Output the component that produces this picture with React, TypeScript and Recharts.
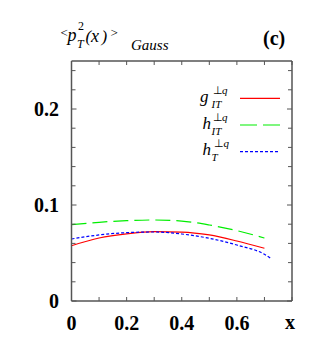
import React from "react";
import { LineChart, Line, XAxis, YAxis } from "recharts";

// x positions where the curves were read
const xGrid = [0, 0.1, 0.2, 0.3, 0.4, 0.5, 0.6, 0.7];
const gIT = [0.0576, 0.0656, 0.07, 0.0722, 0.0718, 0.0688, 0.0625, 0.0549];
const hIT = [0.0795, 0.082, 0.0837, 0.0844, 0.0833, 0.0792, 0.0733, 0.0656];
const hTx = [0, 0.1, 0.2, 0.3, 0.4, 0.5, 0.6, 0.7, 0.725];
const hT = [0.0646, 0.0688, 0.0712, 0.0719, 0.0698, 0.0653, 0.0583, 0.0486, 0.044];

const xTicks = [0, 0.1, 0.2, 0.3, 0.4, 0.5, 0.6, 0.7, 0.8];
const xLabels = ["0", "", "0.2", "", "0.4", "", "0.6", "", ""];
const yTicks = [0, 0.02, 0.04, 0.06, 0.08, 0.1, 0.12, 0.14, 0.16, 0.18, 0.2, 0.22, 0.24];
const yLabels = ["0", "", "", "", "", "0.1", "", "", "", "", "0.2", "", ""];

const series = [
  { key: "g", base: "g", sub: "IT", color: "#ff0000", dash: undefined, legendDash: undefined, x: xGrid, y: gIT },
  { key: "hIT", base: "h", sub: "IT", color: "#00ee00", dash: "15 6", legendDash: "17 6", x: xGrid, y: hIT },
  { key: "hT", base: "h", sub: "T", color: "#0000ff", dash: "3 2", legendDash: "3 2", x: hTx, y: hT },
];

const toPoints = (xs: number[], ys: number[]) => xs.map((x, i) => ({ x, y: ys[i] }));

const serif = "'Liberation Serif', 'Times New Roman', serif";
const frame = "#555";

const BottomTick = (props: any) => {
  const { x, y, index } = props;
  const label = xLabels[index];
  return (
    <g>
      <line x1={x} x2={x} y1={y} y2={y - 4} stroke={frame} strokeWidth={1} />
      {label && (
        <text x={x} y={y + 29} textAnchor="middle" fontFamily={serif} fontWeight="bold" fontSize={20} fill="#000">
          {label}
        </text>
      )}
    </g>
  );
};

const TopTick = (props: any) => {
  const { x, y } = props;
  return <line x1={x} x2={x} y1={y} y2={y + 4} stroke={frame} strokeWidth={1} />;
};

const LeftTick = (props: any) => {
  const { x, y, index } = props;
  const label = yLabels[index];
  return (
    <g>
      <line x1={x} x2={x + (label ? 5 : 4)} y1={y} y2={y} stroke={frame} strokeWidth={1} />
      {label && (
        <text x={x - 12.5} y={y + 7} textAnchor="end" fontFamily={serif} fontWeight="bold" fontSize={20} fill="#000">
          {label}
        </text>
      )}
    </g>
  );
};

const RightTick = (props: any) => {
  const { x, y, index } = props;
  return <line x1={x} x2={x - (yLabels[index] ? 5 : 4)} y1={y} y2={y} stroke={frame} strokeWidth={1} />;
};

const Overlay = () => (
  <svg width={327} height={343} style={{ position: "absolute", left: 0, top: 0, pointerEvents: "none" }}>
    {/* title: <p_T^2(x)>_Gauss */}
    <g fontFamily={serif} fill="#000">
      <text x={60.5} y={37} fontSize={13}>&lt;</text>
      <text x={67.5} y={41} fontSize={18} fontStyle="italic">p</text>
      <text x={78} y={30} fontSize={12}>2</text>
      <text x={77} y={48} fontSize={12} fontStyle="italic">T</text>
      <text x={85.5} y={42} fontSize={17} fontStyle="italic">(</text>
      <text x={91} y={42} fontSize={18} fontStyle="italic">x</text>
      <text x={101.5} y={42} fontSize={17} fontStyle="italic">)</text>
      <text x={110.5} y={37} fontSize={13}>&gt;</text>
      <text x={131} y={50} fontSize={15} fontStyle="italic">Gauss</text>
    </g>
    <text x={263} y={45} fontFamily={serif} fontWeight="bold" fontSize={20} fill="#000">
      (c)
    </text>
    <text x={290} y={329} textAnchor="middle" fontFamily={serif} fontWeight="bold" fontSize={20} fill="#000">
      x
    </text>
    {/* legend */}
    {series.map((s, i) => {
      const ry = 98.3 + 26.7 * i;
      const bx = s.base === "g" ? 200 : 202.5;
      const supX = s.sub === "T" ? 214 : 212.5;
      return (
        <g key={s.key} fontFamily={serif} fill="#000">
          <text x={bx} y={ry + 3.5} fontSize={17} fontStyle="italic">{s.base}</text>
          <text x={supX} y={ry - 4.5} fontSize={11}>⊥</text>
          <text x={supX + 9.5} y={ry - 4.5} fontSize={11} fontStyle="italic">q</text>
          <text x={211.5} y={ry + 9.5} fontSize={11} fontStyle="italic">{s.sub}</text>
          <line x1={240} x2={280} y1={ry} y2={ry} stroke={s.color} strokeWidth={1.2} strokeDasharray={s.legendDash} />
        </g>
      );
    })}
  </svg>
);

export default function App() {
  return (
    <div style={{ position: "absolute", left: 0, top: 0, width: 327, height: 343, background: "#fff" }}>
      <LineChart width={327} height={343} margin={{ top: 60, right: 34, bottom: 0, left: 0 }}>
        <XAxis
          xAxisId="b"
          dataKey="x"
          type="number"
          domain={[0, 0.8]}
          ticks={xTicks}
          interval={0}
          height={42}
          tickSize={0}
          tickMargin={0}
          tickLine={false}
          axisLine={{ stroke: frame, strokeWidth: 1.5 }}
          tick={<BottomTick />}
          allowDataOverflow
        />
        <XAxis
          xAxisId="t"
          orientation="top"
          dataKey="x"
          type="number"
          domain={[0, 0.8]}
          ticks={xTicks}
          interval={0}
          height={1}
          tickSize={0}
          tickMargin={0}
          tickLine={false}
          axisLine={{ stroke: frame, strokeWidth: 1.5 }}
          tick={<TopTick />}
          allowDataOverflow
        />
        <YAxis
          yAxisId="l"
          type="number"
          domain={[0, 0.25]}
          ticks={yTicks}
          interval={0}
          width={71.5}
          tickSize={0}
          tickMargin={0}
          tickLine={false}
          axisLine={{ stroke: frame, strokeWidth: 1.5 }}
          tick={<LeftTick />}
          allowDataOverflow
        />
        <YAxis
          yAxisId="r"
          orientation="right"
          type="number"
          domain={[0, 0.25]}
          ticks={yTicks}
          interval={0}
          width={1}
          tickSize={0}
          tickMargin={0}
          tickLine={false}
          axisLine={{ stroke: frame, strokeWidth: 1.5 }}
          tick={<RightTick />}
          allowDataOverflow
        />
        {series.map((s) => (
          <Line
            key={s.key}
            xAxisId="b"
            yAxisId="l"
            data={toPoints(s.x, s.y)}
            dataKey="y"
            type="monotone"
            stroke={s.color}
            strokeWidth={1.2}
            strokeDasharray={s.dash}
            dot={false}
            activeDot={false}
            isAnimationActive={false}
          />
        ))}
      </LineChart>
      <Overlay />
    </div>
  );
}
